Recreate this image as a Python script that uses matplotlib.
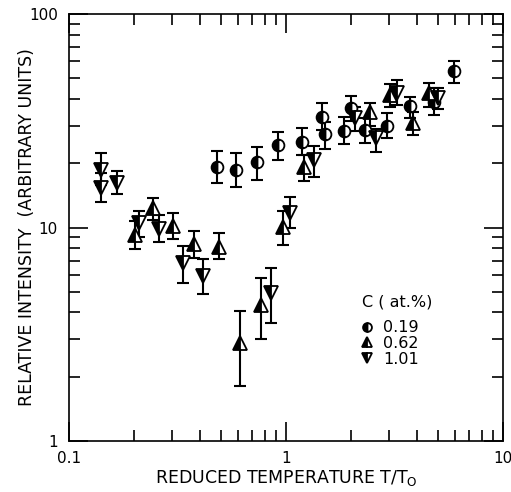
import matplotlib
matplotlib.use("Agg")
import matplotlib.pyplot as plt
from matplotlib.lines import Line2D
import numpy as np

# ---- data ----
# C = 0.19 at.% (half-filled circles)
t019 = [0.479, 0.588, 0.738, 0.922, 1.189, 1.46, 1.52, 1.85, 1.99, 2.31, 2.91, 3.73, 4.81, 5.94]
i019 = [19.3, 18.6, 20.3, 24.3, 25.2, 33.0, 27.4, 28.4, 36.4, 28.6, 29.9, 37.1, 38.8, 54.3]
lo019 = [16.2, 15.5, 16.7, 20.7, 21.9, 28.6, 23.2, 24.6, 31.5, 25.0, 26.2, 32.5, 33.6, 47.7]
hi019 = [22.9, 22.3, 23.7, 28.1, 29.1, 38.2, 31.3, 32.8, 41.3, 32.5, 34.2, 41.0, 45.0, 60.2]

# C = 0.62 at.% (half-filled up triangles)
t062 = [0.201, 0.245, 0.303, 0.377, 0.493, 0.614, 0.767, 0.972, 1.214, 2.44, 3.02, 3.84, 4.58]
i062 = [9.22, 12.4, 10.2, 8.34, 8.13, 2.88, 4.33, 10.1, 19.3, 34.9, 41.7, 30.8, 42.8]
lo062 = [7.9, 10.8, 8.8, 7.17, 7.1, 1.80, 3.0, 8.28, 16.5, 30.0, 36.8, 27.1, 36.8]
hi062 = [10.7, 13.8, 11.7, 9.63, 9.46, 4.08, 5.82, 11.9, 21.9, 38.4, 47.0, 34.9, 47.3]

# C = 1.01 at.% (half-filled down triangles)
t101 = [0.140, 0.140, 0.166, 0.211, 0.261, 0.334, 0.416, 0.85, 1.043, 1.35, 2.08, 2.60, 3.24, 5.0]
i101 = [18.6, 15.3, 16.1, 10.5, 9.8, 6.8, 5.93, 4.92, 11.65, 20.7, 32.5, 26.2, 42.5, 40.5]
lo101 = [15.8, 13.2, 14.3, 9.0, 8.58, 5.48, 4.88, 3.56, 9.9, 17.3, 28.4, 22.6, 37.5, 36.0]
hi101 = [22.3, 18.0, 18.3, 11.9, 11.4, 8.19, 7.12, 6.44, 13.9, 24.2, 36.8, 28.8, 49.1, 45.0]

legend_labels = ["0.19", "0.62", "1.01"]
legend_title = "C ( at.%)"
xlabel = "REDUCED TEMPERATURE T/T$_\\mathregular{O}$"
ylabel = "RELATIVE INTENSITY  (ARBITRARY UNITS)"

plt.rcParams['font.family'] = ['DejaVu Sans']

fig = plt.figure(figsize=(5.11, 4.92), dpi=100)
ax = fig.add_axes([0.135, 0.1037, 0.849, 0.8678])

series = [
    (t019, i019, lo019, hi019, 'o', 8.5),
    (t062, i062, lo062, hi062, '^', 9.5),
    (t101, i101, lo101, hi101, 'v', 9.5),
]
handles = []
for t, v, lo, hi, m, ms in series:
    v = np.array(v); lo = np.array(lo); hi = np.array(hi)
    yerr = np.vstack([v - lo, hi - v])
    ax.errorbar(t, v, yerr=yerr, fmt='none', ecolor='black', elinewidth=1.5,
                capsize=4.3, capthick=1.5, zorder=2)
    ax.plot(t, v, linestyle='none', marker=m, markersize=ms, fillstyle='left',
            markerfacecolor='black', markerfacecoloralt='white',
            markeredgecolor='black', markeredgewidth=1.3, zorder=3)
    handles.append(Line2D([], [], linestyle='none', marker=m, markersize=ms * 0.75,
                          fillstyle='left', markerfacecolor='black',
                          markerfacecoloralt='white', markeredgecolor='black',
                          markeredgewidth=1.3))

ax.set_xscale('log')
ax.set_yscale('log')
ax.set_xlim(0.1, 10)
ax.set_ylim(1, 100)

ax.set_xticks([0.1, 1, 10])
ax.set_xticklabels(["0.1", "1", "10"])
ax.set_yticks([1, 10, 100])
ax.set_yticklabels(["1", "10", "100"])

ax.tick_params(which='both', direction='in', top=True, right=True, labelsize=11)
ax.tick_params(which='major', length=14, width=1.2)
ax.tick_params(axis='x', which='major', pad=7)
ax.tick_params(axis='y', which='major', pad=8)
ax.tick_params(which='minor', length=8, width=1.2)
for s in ax.spines.values():
    s.set_linewidth(1.2)

ax.set_xlabel(xlabel, fontsize=12.5, labelpad=2)
ax.set_ylabel(ylabel, fontsize=12.5)
ax.yaxis.set_label_coords(-0.077, 0.5)

ax.text(0.675, 0.326, legend_title, transform=ax.transAxes, fontsize=11.5,
        ha='left', va='center')
leg = ax.legend(handles, legend_labels, frameon=False,
                loc='upper left', bbox_to_anchor=(0.673, 0.283),
                handlelength=0.8, handletextpad=0.6, labelspacing=0.05,
                fontsize=11.5, borderaxespad=0, borderpad=0)

fig.savefig("out.png", dpi=100)
